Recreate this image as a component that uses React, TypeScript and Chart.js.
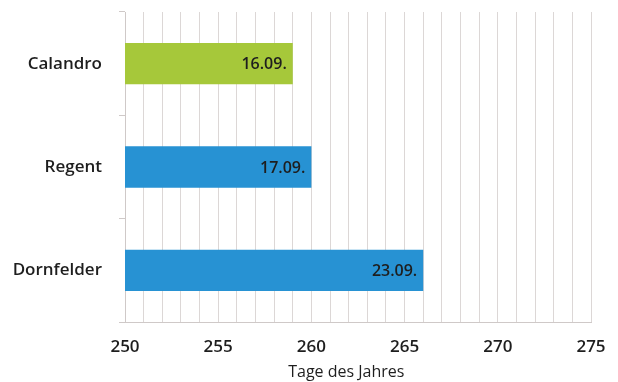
import React, { useEffect, useRef } from "react";
import { Chart, registerables } from "chart.js";

Chart.register(...registerables);

const categories = ["Calandro", "Regent", "Dornfelder"];
const dayOfYear = [259, 260, 266];
const dateLabels = ["16.09.", "17.09.", "23.09."];
const barColors = ["#a6c83a", "#2792d3", "#2792d3"];
const axisTitle = "Tage des Jahres";

const FONT = "'Open Sans', 'Noto Sans', sans-serif";

const valueLabelPlugin = {
  id: "valueLabels",
  afterDatasetsDraw(chart: any) {
    const ctx = chart.ctx;
    const meta = chart.getDatasetMeta(0);
    ctx.save();
    ctx.font = `600 16px ${FONT}`;
    ctx.fillStyle = "#1e1e1e";
    ctx.textAlign = "right";
    ctx.textBaseline = "middle";
    meta.data.forEach((bar: any, i: number) => {
      ctx.fillText(dateLabels[i], bar.x - 6, bar.y + 1);
    });
    ctx.restore();
  },
};

const axisTitlePlugin = {
  id: "axisTitle",
  afterDraw(chart: any) {
    const ctx = chart.ctx;
    const area = chart.chartArea;
    ctx.save();
    ctx.font = `16px ${FONT}`;
    ctx.fillStyle = "#1e1e1e";
    ctx.textAlign = "center";
    ctx.textBaseline = "middle";
    ctx.fillText(axisTitle, area.left + (area.right - area.left) * 0.475, area.bottom + 50);
    ctx.restore();
  },
};

export default function App() {
  const ref = useRef<HTMLCanvasElement | null>(null);
  useEffect(() => {
    if (!ref.current) return;
    const chart = new Chart(ref.current, {
      type: "bar",
      data: {
        labels: categories,
        datasets: [
          {
            data: dayOfYear,
            backgroundColor: barColors,
            borderWidth: 0,
            categoryPercentage: 0.4,
            barPercentage: 1,
          },
        ],
      },
      options: {
        indexAxis: "y",
        animation: false,
        responsive: false,
        maintainAspectRatio: false,
        layout: { padding: { top: 12, right: 27, left: 0, bottom: 0 } },
        plugins: { legend: { display: false }, tooltip: { enabled: false } },
        scales: {
          x: {
            min: 250,
            max: 275,
            ticks: {
              stepSize: 1,
              autoSkip: false,
              maxRotation: 0,
              color: "#1e1e1e",
              font: { family: FONT, size: 17, weight: "600" },
              padding: 15,
              callback: (v: any) => (Number(v) % 5 === 0 ? String(v) : ""),
            },
            grid: { color: "#dcd7d6", lineWidth: 1, drawTicks: false },
            border: { display: true, color: "#cfc9c8" },
            afterFit: (s: any) => {
              s.height = 60;
              s.paddingLeft = 0;
              s.paddingRight = 0;
            },
          },
          y: {
            offset: true,
            ticks: {
              color: "#1e1e1e",
              font: { family: FONT, size: 17, weight: "600" },
              padding: 17,
            },
            grid: {
              offset: true,
              drawOnChartArea: false,
              tickLength: 6,
              color: "#cfc9c8",
            },
            border: { display: true, color: "#cfc9c8" },
            afterFit: (s: any) => {
              s.width = 125;
              s.paddingTop = 0;
              s.paddingBottom = 0;
            },
          },
        },
      },
      plugins: [valueLabelPlugin, axisTitlePlugin],
    });
    return () => chart.destroy();
  }, []);
  return (
    <div style={{ position: "fixed", left: 0, top: 0, width: 618, height: 382, background: "#fff" }}>
      <canvas ref={ref} width={618} height={382} />
    </div>
  );
}
